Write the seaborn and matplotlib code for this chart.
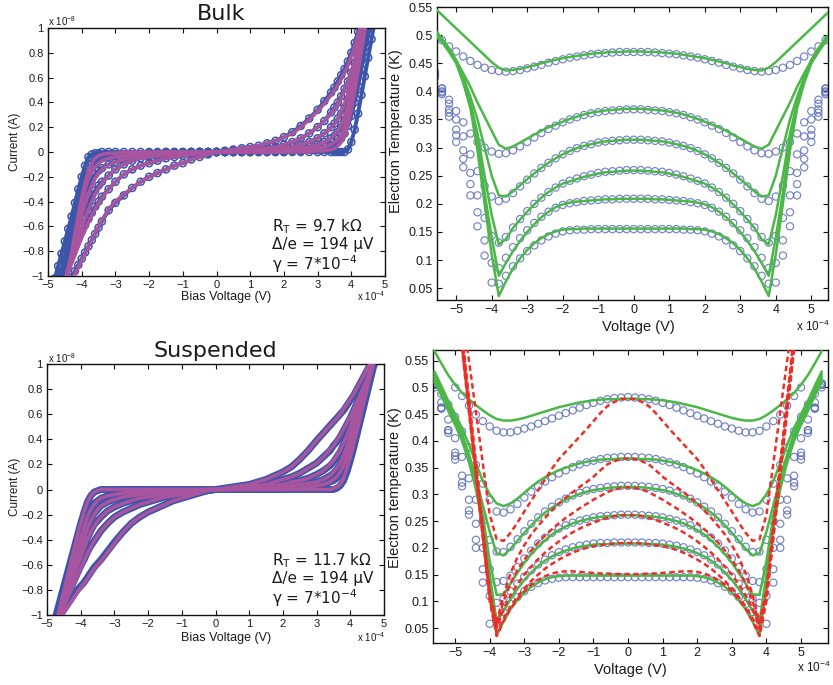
import numpy as np
import matplotlib
matplotlib.use("Agg")
import matplotlib.pyplot as plt
from matplotlib.ticker import FuncFormatter
import seaborn as sns

# ---------------------------------------------------------------------------
# Current-voltage sweeps.  Bias in units of 1e-4 V, current in units of 1e-10 A
# (i.e. 100 -> 1e-8 A).  Six bath temperatures, softest curve first.
# ---------------------------------------------------------------------------
bias_iv = [-4.8, -4.7, -4.6, -4.5, -4.4, -4.3, -4.2, -4.1, -4.0, -3.9, -3.8, -3.7,
           -3.6, -3.5, -3.4, -3.2, -3.0, -2.75, -2.5, -2.25, -2.0, -1.75, -1.5,
           -1.25, -1.0, -0.75, -0.5, -0.25, 0.0, 0.25, 0.5, 0.75, 1.0, 1.25, 1.5,
           1.75, 2.0, 2.25, 2.5, 2.75, 3.0, 3.2, 3.4, 3.5, 3.6, 3.7, 3.8, 3.9, 4.0,
           4.1, 4.2, 4.3, 4.4, 4.5, 4.6, 4.7, 4.8]

bulk_iv_fit = [
    [-131, -126, -120, -115, -109, -104, -98, -93, -87, -82, -76, -71, -66, -60, -55, -46, -40, -34, -29, -24, -20, -17, -14, -11, -9, -6, -4, -2,
     0, 1, 2, 3, 4, 5, 7, 9, 12, 15, 20, 26, 33, 39, 46, 50, 54, 59, 64, 70, 77, 85, 94, 103, 112, 121, 130, 139, 148],
    [-125, -118, -111, -104, -97, -90, -83, -76, -69, -63, -57, -51, -46, -41, -37, -30, -24, -18, -14, -11, -9, -7, -5, -4, -3, -2, -1, -1,
     0, 0, 1, 1, 2, 2, 3, 4, 6, 8, 11, 15, 20, 25, 31, 35, 39, 44, 50, 57, 65, 74, 84, 94, 104, 114, 124, 134, 144],
    [-133, -124, -115, -106, -97, -88, -79, -70, -62, -54, -47, -40, -34, -29, -25, -19, -14, -10, -7, -5, -4, -3, -2, -2, -1, -1, 0, 0,
     0, 0, 0, 1, 1, 1, 2, 2, 3, 4, 6, 8, 11, 15, 20, 23, 27, 32, 39, 47, 56, 66, 77, 89, 101, 113, 125, 137, 149],
    [-137, -126, -115, -104, -93, -82, -71, -61, -51, -42, -34, -27, -21, -17, -14, -10, -8, -6, -4, -3, -2, -2, -1, -1, -1, 0, 0, 0,
     0, 0, 0, 0, 0, 1, 1, 1, 1, 2, 3, 4, 6, 8, 11, 14, 17, 22, 28, 37, 47, 59, 72, 86, 100, 114, 128, 142, 156],
    [-152, -138, -124, -110, -96, -82, -68, -55, -42, -30, -21, -16, -12, -9, -7, -5, -4, -3, -2, -2, -1, -1, 0, 0, 0, 0, 0, 0,
     0, 0, 0, 0, 0, 0, 0, 0, 0, 1, 1, 2, 3, 4, 6, 8, 10, 14, 20, 29, 40, 53, 68, 83, 99, 115, 131, 147, 163],
    [-162, -146, -130, -114, -98, -82, -66, -51, -37, -25, -15, -9, -5, -3, -2, -1, -1, 0, 0, 0, 0, 0, 0, 0, 0, 0, 0, 0,
     0, 0, 0, 0, 0, 0, 0, 0, 0, 0, 0, 0, 1, 1, 2, 3, 5, 8, 13, 22, 34, 49, 65, 82, 99, 116, 133, 150, 167],
]

bulk_iv_meas = [
    [-128, -122, -117, -111, -106, -101, -96, -91, -86, -81, -76, -71, -66, -61, -56, -47, -41, -35, -29, -24, -20, -17, -14, -11, -9, -6, -4, -2,
     0, 1, 2, 3, 4, 5, 7, 9, 12, 16, 21, 27, 34, 41, 48, 52, 57, 62, 67, 73, 80, 88, 97, 106, 115, 124, 133, 142, 151],
    [-112, -106, -100, -94, -88, -82, -76, -70, -64, -59, -54, -49, -44, -40, -36, -30, -24, -18, -14, -11, -9, -7, -5, -4, -3, -2, -1, -1,
     0, 0, 1, 1, 2, 2, 3, 4, 6, 8, 11, 15, 20, 25, 32, 36, 40, 45, 51, 57, 64, 72, 81, 91, 101, 111, 121, 131, 141],
    [-115, -107, -99, -91, -83, -75, -67, -59, -52, -46, -40, -35, -31, -27, -24, -19, -14, -10, -7, -5, -4, -3, -2, -2, -1, -1, 0, 0,
     0, 0, 0, 1, 1, 1, 2, 2, 3, 4, 6, 8, 11, 15, 20, 23, 27, 31, 36, 42, 50, 59, 69, 80, 92, 104, 116, 128, 140],
    [-118, -108, -98, -88, -78, -68, -58, -49, -41, -33, -27, -22, -18, -15, -13, -10, -8, -6, -4, -3, -2, -2, -1, -1, -1, 0, 0, 0,
     0, 0, 0, 0, 0, 1, 1, 1, 1, 2, 3, 4, 6, 8, 11, 13, 16, 20, 25, 31, 39, 49, 61, 74, 88, 102, 116, 130, 144],
    [-120, -108, -96, -84, -72, -60, -49, -38, -28, -20, -14, -10, -8, -6, -5, -4, -3, -3, -2, -2, -1, -1, 0, 0, 0, 0, 0, 0,
     0, 0, 0, 0, 0, 0, 0, 0, 0, 1, 1, 2, 3, 4, 5, 6, 8, 11, 15, 21, 29, 40, 53, 67, 81, 95, 109, 123, 137],
    [-102, -92, -82, -72, -62, -52, -41, -30, -20, -11, -4, -2, -1, -1, 0, 0, 0, 0, 0, 0, 0, 0, 0, 0, 0, 0, 0, 0,
     0, 0, 0, 0, 0, 0, 0, 0, 0, 0, 0, 0, 0, 0, 0, 0, 0, 0, 0, 2, 8, 18, 31, 46, 61, 76, 91, 106, 121],
]

susp_iv_fit = [
    [-110, -106, -102, -98, -94, -90, -86, -82, -78, -75, -71, -67, -63, -60, -57, -50, -43, -34, -27, -22, -18, -15, -12, -9, -7, -5, -3, -1,
     0, 1, 2, 3, 4, 6, 8, 11, 14, 18, 24, 31, 39, 45, 51, 54, 57, 60, 64, 68, 72, 76, 81, 86, 91, 96, 101, 106, 111],
    [-111, -105, -99, -93, -87, -81, -75, -69, -63, -57, -51, -46, -41, -37, -33, -27, -22, -18, -15, -12, -10, -8, -6, -5, -4, -3, -2, -1,
     0, 0, 1, 2, 3, 3, 4, 6, 8, 10, 13, 17, 21, 26, 32, 35, 39, 43, 48, 53, 58, 64, 70, 76, 82, 88, 94, 100, 106],
    [-115, -107, -99, -91, -83, -75, -68, -61, -54, -47, -40, -34, -29, -25, -22, -17, -14, -11, -9, -7, -6, -5, -4, -3, -2, -2, -1, 0,
     0, 0, 1, 1, 2, 2, 3, 3, 4, 6, 7, 9, 12, 15, 20, 23, 27, 31, 37, 43, 50, 57, 64, 71, 79, 87, 95, 103, 111],
    [-119, -110, -101, -92, -83, -74, -65, -56, -47, -39, -31, -25, -20, -16, -13, -10, -8, -6, -5, -4, -3, -3, -2, -2, -1, -1, -1, 0,
     0, 0, 0, 1, 1, 1, 1, 1, 2, 3, 4, 5, 6, 8, 11, 14, 17, 21, 27, 34, 42, 51, 60, 69, 78, 87, 96, 105, 114],
    [-119, -109, -99, -89, -79, -69, -59, -49, -39, -30, -22, -16, -12, -9, -7, -5, -4, -3, -2, -2, -1, -1, 0, 0, 0, 0, 0, 0,
     0, 0, 0, 0, 0, 0, 0, 0, 0, 1, 1, 2, 3, 4, 6, 8, 10, 14, 19, 26, 35, 45, 55, 65, 75, 85, 95, 105, 115],
    [-114, -103, -92, -81, -70, -59, -48, -37, -27, -18, -10, -5, -2, -1, 0, 0, 0, 0, 0, 0, 0, 0, 0, 0, 0, 0, 0, 0,
     0, 0, 0, 0, 0, 0, 0, 0, 0, 0, 0, 0, 0, 0, 0, 1, 2, 4, 9, 17, 26, 36, 47, 58, 69, 80, 91, 102, 113],
]

susp_iv_meas = [
    [-108, -104, -100, -96, -92, -88, -84, -80, -77, -74, -70, -66, -62, -59, -56, -49, -42, -34, -27, -22, -18, -15, -12, -9, -7, -5, -3, -1,
     0, 1, 2, 3, 4, 6, 8, 11, 14, 18, 24, 31, 39, 45, 51, 54, 57, 60, 63, 67, 71, 75, 80, 85, 90, 95, 100, 105, 110],
    [-109, -103, -97, -91, -85, -79, -73, -67, -61, -56, -50, -45, -41, -37, -33, -27, -22, -18, -15, -12, -10, -8, -6, -5, -4, -3, -2, -1,
     0, 0, 1, 2, 3, 3, 4, 6, 8, 10, 13, 17, 21, 26, 31, 35, 38, 42, 47, 52, 57, 63, 69, 75, 81, 87, 93, 99, 105],
    [-112, -104, -96, -88, -80, -73, -66, -59, -52, -45, -39, -33, -28, -25, -22, -17, -14, -11, -9, -7, -6, -5, -4, -3, -2, -2, -1, 0,
     0, 0, 1, 1, 2, 2, 3, 3, 4, 6, 7, 9, 12, 15, 19, 22, 26, 30, 36, 42, 49, 56, 63, 70, 78, 86, 94, 102, 110],
    [-116, -107, -98, -89, -80, -71, -62, -53, -45, -37, -30, -24, -19, -16, -13, -10, -8, -6, -5, -4, -3, -3, -2, -2, -1, -1, -1, 0,
     0, 0, 0, 1, 1, 1, 1, 1, 2, 3, 4, 5, 6, 8, 11, 13, 16, 20, 26, 33, 41, 50, 59, 68, 77, 86, 95, 104, 113],
    [-116, -106, -96, -86, -76, -66, -56, -46, -37, -28, -21, -15, -11, -9, -7, -5, -4, -3, -2, -2, -1, -1, 0, 0, 0, 0, 0, 0,
     0, 0, 0, 0, 0, 0, 0, 0, 0, 1, 1, 2, 3, 4, 6, 7, 9, 13, 18, 25, 34, 44, 54, 64, 74, 84, 94, 104, 114],
    [-107, -97, -87, -77, -67, -57, -47, -37, -27, -18, -10, -5, -2, -1, 0, 0, 0, 0, 0, 0, 0, 0, 0, 0, 0, 0, 0, 0,
     0, 0, 0, 0, 0, 0, 0, 0, 0, 0, 0, 0, 0, 0, 0, 0, 1, 3, 7, 14, 23, 33, 44, 55, 66, 77, 88, 99, 110],
]

# ---------------------------------------------------------------------------
# Electron temperature versus bias.  Bias in units of 1e-4 V, temperature in mK.
# ---------------------------------------------------------------------------
bias_te = [-5.6, -5.4, -5.2, -5.0, -4.8, -4.6, -4.4, -4.2, -4.0, -3.8, -3.6, -3.4,
           -3.2, -3.0, -2.8, -2.6, -2.4, -2.2, -2.0, -1.8, -1.6, -1.4, -1.2, -1.0,
           -0.8, -0.6, -0.4, -0.2, 0.0, 0.2, 0.4, 0.6, 0.8, 1.0, 1.2, 1.4, 1.6, 1.8,
           2.0, 2.2, 2.4, 2.6, 2.8, 3.0, 3.2, 3.4, 3.6, 3.8, 4.0, 4.2, 4.4, 4.6, 4.8,
           5.0, 5.2, 5.4, 5.6]

bulk_te_fit = [
    [548, 536, 524, 512, 500, 488, 476, 464, 452, 442, 437, 438, 440, 443, 446, 450, 453, 456, 459, 461, 463, 465, 467, 468, 469, 470, 470, 471,
     471, 471, 470, 470, 469, 468, 467, 465, 463, 461, 459, 456, 453, 450, 446, 443, 440, 438, 437, 442, 452, 464, 476, 488, 500, 512, 524, 536, 548],
    [510, 493, 475, 455, 432, 408, 380, 355, 330, 305, 298, 302, 309, 316, 323, 330, 336, 341, 346, 351, 355, 359, 362, 364, 366, 367, 368, 369,
     369, 369, 368, 367, 366, 364, 362, 359, 355, 351, 346, 341, 336, 330, 323, 316, 309, 302, 298, 305, 330, 355, 380, 408, 432, 455, 475, 493, 510],
    [508, 494, 476, 455, 425, 390, 350, 300, 250, 215, 213, 222, 233, 244, 254, 264, 273, 281, 288, 294, 299, 303, 306, 309, 311, 312, 313, 314,
     314, 314, 313, 312, 311, 309, 306, 303, 299, 294, 288, 281, 273, 264, 254, 244, 233, 222, 213, 215, 250, 300, 350, 390, 425, 455, 476, 494, 508],
    [505, 492, 476, 455, 423, 380, 325, 250, 180, 128, 137, 157, 172, 186, 199, 211, 221, 229, 236, 240, 244, 248, 251, 254, 256, 257, 258, 259,
     259, 259, 258, 257, 256, 254, 251, 248, 244, 240, 236, 229, 221, 211, 199, 186, 172, 157, 137, 128, 180, 250, 325, 380, 423, 455, 476, 492, 505],
    [502, 490, 472, 452, 420, 375, 310, 220, 140, 72, 95, 116, 134, 150, 164, 176, 186, 194, 199, 202, 204, 205, 206, 207, 208, 208, 209, 209,
     209, 209, 209, 208, 208, 207, 206, 205, 204, 202, 199, 194, 186, 176, 164, 150, 134, 116, 95, 72, 140, 220, 310, 375, 420, 452, 472, 490, 502],
    [500, 488, 470, 450, 415, 370, 295, 200, 110, 36, 62, 85, 103, 118, 130, 139, 146, 151, 154, 155, 155, 156, 156, 156, 156, 156, 156, 156,
     156, 156, 156, 156, 156, 156, 156, 156, 155, 155, 154, 151, 146, 139, 130, 118, 103, 85, 62, 36, 110, 200, 295, 370, 415, 450, 470, 488, 500],
]

bulk_te_meas = [
    [502, 491, 480, 471, 462, 454, 447, 442, 438, 436, 435, 436, 438, 441, 444, 447, 451, 454, 457, 460, 462, 464, 466, 467, 468, 469, 470, 470,
     470, 470, 470, 469, 468, 467, 466, 464, 462, 460, 457, 454, 451, 447, 444, 441, 438, 436, 435, 436, 438, 442, 447, 454, 462, 471, 480, 491, 502],
    [425, 405, 385, 365, 345, 325, 310, 300, 293, 289, 290, 295, 302, 310, 318, 326, 333, 339, 345, 350, 354, 358, 361, 363, 365, 366, 367, 368,
     368, 368, 367, 366, 365, 363, 361, 358, 354, 350, 345, 339, 333, 326, 318, 310, 302, 295, 290, 289, 293, 300, 310, 325, 345, 365, 385, 405, 425],
    [430, 405, 378, 350, 320, 288, 258, 232, 213, 205, 209, 219, 231, 243, 254, 264, 273, 281, 288, 294, 299, 303, 306, 309, 311, 312, 313, 314,
     314, 314, 313, 312, 311, 309, 306, 303, 299, 294, 288, 281, 273, 264, 254, 243, 231, 219, 209, 205, 213, 232, 258, 288, 320, 350, 378, 405, 430],
    [430, 400, 368, 332, 295, 255, 215, 175, 143, 131, 141, 158, 173, 187, 200, 211, 221, 229, 236, 241, 245, 249, 252, 255, 257, 258, 259, 260,
     260, 260, 259, 258, 257, 255, 252, 249, 245, 241, 236, 229, 221, 211, 200, 187, 173, 158, 141, 131, 143, 175, 215, 255, 295, 332, 368, 400, 430],
    [432, 398, 362, 322, 280, 235, 185, 135, 95, 86, 104, 123, 139, 153, 166, 177, 186, 193, 198, 201, 203, 205, 206, 207, 208, 208, 209, 209,
     209, 209, 209, 208, 208, 207, 206, 205, 203, 201, 198, 193, 186, 177, 166, 153, 139, 123, 104, 86, 95, 135, 185, 235, 280, 322, 362, 398, 432],
    [435, 395, 355, 310, 265, 215, 160, 108, 60, 58, 72, 89, 103, 116, 126, 135, 142, 147, 151, 153, 154, 154, 155, 155, 155, 155, 155, 155,
     155, 155, 155, 155, 155, 155, 155, 154, 154, 153, 151, 147, 142, 135, 126, 116, 103, 89, 72, 58, 60, 108, 160, 215, 265, 310, 355, 395, 435],
]

susp_te_fit = [
    [568, 545, 523, 505, 490, 478, 467, 457, 448, 441, 438, 438, 440, 443, 447, 451, 455, 459, 463, 466, 469, 472, 474, 476, 477, 478, 478, 479,
     479, 479, 478, 478, 477, 476, 474, 472, 469, 466, 463, 459, 455, 451, 447, 443, 440, 438, 438, 441, 448, 457, 467, 478, 490, 505, 523, 545, 568],
    [530, 503, 475, 450, 424, 393, 358, 325, 300, 283, 278, 283, 292, 303, 314, 324, 332, 339, 345, 350, 354, 358, 361, 363, 365, 366, 366, 367,
     367, 367, 366, 366, 365, 363, 361, 358, 354, 350, 345, 339, 332, 324, 314, 303, 292, 283, 278, 283, 300, 325, 358, 393, 424, 450, 475, 503, 530],
    [525, 498, 470, 444, 413, 375, 330, 280, 230, 190, 186, 198, 213, 228, 242, 255, 266, 275, 283, 290, 296, 301, 305, 308, 310, 312, 313, 314,
     314, 314, 313, 312, 310, 308, 305, 301, 296, 290, 283, 275, 266, 255, 242, 228, 213, 198, 186, 190, 230, 280, 330, 375, 413, 444, 470, 498, 525],
    [520, 494, 466, 440, 410, 370, 320, 260, 175, 112, 113, 133, 153, 172, 188, 202, 214, 225, 233, 240, 246, 250, 253, 256, 258, 259, 260, 261,
     261, 261, 260, 259, 258, 256, 253, 250, 246, 240, 233, 225, 214, 202, 188, 172, 153, 133, 113, 112, 175, 260, 320, 370, 410, 440, 466, 494, 520],
    [515, 490, 462, 436, 405, 365, 315, 250, 150, 62, 82, 104, 123, 140, 154, 166, 176, 184, 190, 195, 199, 202, 204, 206, 207, 207, 208, 208,
     208, 208, 208, 207, 207, 206, 204, 202, 199, 195, 190, 184, 176, 166, 154, 140, 123, 104, 82, 62, 150, 250, 315, 365, 405, 436, 462, 490, 515],
    [510, 485, 456, 430, 400, 360, 310, 240, 130, 36, 62, 85, 102, 116, 127, 135, 141, 145, 147, 148, 148, 148, 148, 148, 148, 148, 148, 148,
     148, 148, 148, 148, 148, 148, 148, 148, 148, 148, 147, 145, 141, 135, 127, 116, 102, 85, 62, 36, 130, 240, 310, 360, 400, 430, 456, 485, 510],
]

susp_te_model = [
    [1025, 930, 835, 740, 645, 550, 455, 358, 262, 216, 213, 228, 247, 268, 288, 308, 328, 348, 366, 380, 394, 408, 422, 437, 452, 465, 473, 478,
     479, 478, 473, 465, 452, 437, 422, 408, 394, 380, 366, 348, 328, 308, 288, 268, 247, 228, 213, 216, 262, 358, 455, 550, 645, 740, 835, 930, 1025],
    [1080, 960, 840, 720, 600, 480, 360, 240, 120, 60, 112, 152, 182, 205, 225, 241, 256, 270, 283, 294, 304, 314, 323, 333, 345, 356, 362, 366,
     367, 366, 362, 356, 345, 333, 323, 314, 304, 294, 283, 270, 256, 241, 225, 205, 182, 152, 112, 60, 120, 240, 360, 480, 600, 720, 840, 960, 1080],
    [1075, 955, 835, 715, 595, 475, 355, 235, 115, 55, 100, 133, 158, 178, 195, 210, 223, 235, 246, 256, 265, 274, 282, 290, 297, 304, 309, 312,
     313, 312, 309, 304, 297, 290, 282, 274, 265, 256, 246, 235, 223, 210, 195, 178, 158, 133, 100, 55, 115, 235, 355, 475, 595, 715, 835, 955, 1075],
    [1060, 940, 820, 700, 582, 464, 346, 228, 110, 50, 86, 111, 132, 150, 165, 179, 191, 202, 212, 221, 229, 236, 242, 247, 252, 256, 259, 261,
     261, 261, 259, 256, 252, 247, 242, 236, 229, 221, 212, 202, 191, 179, 165, 150, 132, 111, 86, 50, 110, 228, 346, 464, 582, 700, 820, 940, 1060],
    [1050, 930, 812, 694, 576, 458, 340, 222, 105, 42, 68, 90, 108, 124, 138, 150, 161, 170, 178, 185, 191, 196, 200, 203, 205, 207, 208, 209,
     209, 209, 208, 207, 205, 203, 200, 196, 191, 185, 178, 170, 161, 150, 138, 124, 108, 90, 68, 42, 105, 222, 340, 458, 576, 694, 812, 930, 1050],
    [1044, 926, 808, 690, 572, 454, 336, 218, 100, 35, 63, 86, 104, 119, 131, 140, 147, 152, 155, 156, 156, 155, 154, 153, 152, 152, 151, 151,
     151, 151, 151, 152, 152, 153, 154, 155, 156, 156, 155, 152, 147, 140, 131, 119, 104, 86, 63, 35, 100, 218, 336, 454, 572, 690, 808, 926, 1044],
]

susp_te_meas = [
    [None, None, None, 500, 484, 466, 449, 437, 427, 419, 416, 416, 419, 423, 427, 432, 437, 442, 447, 452, 457, 462, 467, 471, 475, 478, 480, 481,
     482, 481, 480, 478, 475, 471, 467, 462, 457, 452, 447, 442, 437, 432, 427, 423, 419, 416, 416, 419, 427, 437, 449, 466, 484, 500, None, None, None],
    [505, 488, 468, 445, 418, 388, 355, 320, 290, 268, 266, 272, 282, 294, 305, 315, 324, 332, 339, 345, 351, 356, 360, 363, 366, 368, 369, 370,
     370, 370, 369, 368, 366, 363, 360, 356, 351, 345, 339, 332, 324, 315, 305, 294, 282, 272, 266, 268, 290, 320, 355, 388, 418, 445, 468, 488, 505],
    [505, 472, 440, 405, 370, 330, 290, 250, 215, 193, 192, 202, 216, 231, 245, 257, 268, 277, 285, 292, 298, 303, 307, 310, 312, 314, 315, 316,
     316, 316, 315, 314, 312, 310, 307, 303, 298, 292, 285, 277, 268, 257, 245, 231, 216, 202, 192, 193, 215, 250, 290, 330, 370, 405, 440, 472, 505],
    [500, 460, 420, 378, 335, 290, 245, 200, 160, 136, 138, 148, 164, 180, 195, 208, 219, 228, 236, 242, 247, 251, 254, 257, 259, 260, 261, 262,
     262, 262, 261, 260, 259, 257, 254, 251, 247, 242, 236, 228, 219, 208, 195, 180, 164, 148, 138, 136, 160, 200, 245, 290, 335, 378, 420, 460, 500],
    [505, 462, 420, 372, 322, 270, 215, 160, 110, 97, 105, 119, 133, 146, 158, 169, 178, 186, 192, 197, 201, 204, 206, 208, 209, 209, 210, 210,
     210, 210, 210, 209, 209, 208, 206, 204, 201, 197, 192, 186, 178, 169, 158, 146, 133, 119, 105, 97, 110, 160, 215, 270, 322, 372, 420, 462, 505],
    [508, 462, 415, 365, 315, 262, 200, 135, 58, 64, 80, 95, 108, 119, 127, 134, 139, 142, 144, 145, 145, 145, 145, 145, 145, 145, 145, 145,
     145, 145, 145, 145, 145, 145, 145, 145, 145, 145, 144, 142, 139, 134, 127, 119, 108, 95, 80, 64, 58, 135, 200, 262, 315, 365, 415, 462, 508],
]

for group in (bulk_iv_fit, bulk_iv_meas, susp_iv_fit, susp_iv_meas):
    for row in group:
        assert len(row) == len(bias_iv), len(row)
for group in (bulk_te_fit, bulk_te_meas, susp_te_fit, susp_te_model, susp_te_meas):
    for row in group:
        assert len(row) == len(bias_te), len(row)

# ---------------------------------------------------------------------------
sns.set_theme(style="ticks")
plt.rcParams["font.family"] = ["Liberation Sans", "DejaVu Sans"]
plt.rcParams["axes.unicode_minus"] = True

BLUE_IV = "#3b55a9"
MAGENTA = "#a8549f"
CIRCLE = "#5a6dbb"
GREEN = "#4cb748"
RED = "#ec2f26"
TEXT = "#1a1a1a"

W, H = 833, 685
fig = plt.figure(figsize=(W / 100, H / 100), dpi=100)


def px_axes(x0, y0, x1, y1):
    return fig.add_axes([x0 / W, 1 - y1 / H, (x1 - x0) / W, (y1 - y0) / H])


def ftext(x, y, s, **kw):
    kw.setdefault("color", TEXT)
    return fig.text(x / W, 1 - y / H, s, **kw)


fmt = FuncFormatter(lambda v, p: ("%g" % round(v, 3)).replace("-", "\u2212"))


def style_axes(ax, size):
    for sp in ax.spines.values():
        sp.set_visible(True)
        sp.set_color("#111111")
        sp.set_linewidth(1.0)
    ax.tick_params(which="both", direction="in", length=3.5, width=0.8,
                   top=True, right=True, labelsize=size, pad=3,
                   labelcolor=TEXT, color="#111111")
    ax.xaxis.set_major_formatter(fmt)
    ax.yaxis.set_major_formatter(fmt)
    ax.set_xlabel("")
    ax.set_ylabel("")


ax_biv = px_axes(48, 28, 385, 276)
ax_bte = px_axes(437, 7, 828, 300)
ax_siv = px_axes(47, 364, 384, 615)
ax_ste = px_axes(433, 350, 828, 643)

v_iv = np.array(bias_iv, dtype=float)
v_te = np.array(bias_te, dtype=float)


def draw_iv(ax, fits, meas, band_lw, with_circles):
    for row in meas:
        y = np.array(row, dtype=float) / 100.0
        sns.lineplot(x=v_iv, y=y, ax=ax, color=BLUE_IV, lw=band_lw,
                     zorder=2, legend=False, sort=False)
        if with_circles:
            sns.scatterplot(x=v_iv, y=y, ax=ax, marker="o", s=26,
                            color=BLUE_IV, facecolor="none",
                            edgecolor=BLUE_IV, linewidth=1.1, zorder=2.2,
                            legend=False)
    for row in fits:
        y = np.array(row, dtype=float) / 100.0
        sns.lineplot(x=v_iv, y=y, ax=ax, color=MAGENTA, lw=2.6,
                     zorder=3, legend=False, sort=False)
    ax.set_xlim(-5, 5)
    ax.set_ylim(-1, 1)
    ax.set_xticks(np.arange(-5, 6, 1))
    ax.set_yticks([-1, -0.8, -0.6, -0.4, -0.2, 0, 0.2, 0.4, 0.6, 0.8, 1])
    style_axes(ax, 8)


draw_iv(ax_biv, bulk_iv_fit, bulk_iv_meas, 2.8, True)
draw_iv(ax_siv, susp_iv_fit, susp_iv_meas, 5.0, False)


def draw_te(ax, fits, meas, model=None):
    for row in meas:
        y = np.array(row, dtype=float) / 1000.0
        sns.scatterplot(x=v_te, y=y, ax=ax, marker="o", s=27,
                        color=CIRCLE, facecolor="none", edgecolor=CIRCLE,
                        linewidth=0.85, alpha=0.85, zorder=2, legend=False)
    for row in fits:
        y = np.array(row, dtype=float) / 1000.0
        sns.lineplot(x=v_te, y=y, ax=ax, color=GREEN, lw=1.8, zorder=3,
                     legend=False, sort=False)
    if model is not None:
        for row in model:
            y = np.array(row, dtype=float) / 1000.0
            sns.lineplot(x=v_te, y=y, ax=ax, color=RED, lw=1.8, zorder=4,
                         legend=False, sort=False,
                         linestyle=(0, (2.2, 1.4)))
    ax.set_xticks(np.arange(-5, 6, 1))
    ax.set_yticks([0.05, 0.1, 0.15, 0.2, 0.25, 0.3, 0.35, 0.4, 0.45, 0.5, 0.55])
    style_axes(ax, 9)


draw_te(ax_bte, bulk_te_fit, bulk_te_meas)
ax_bte.set_xlim(-5.54, 5.47)
ax_bte.set_ylim(0.029, 0.55)

draw_te(ax_ste, susp_te_fit, susp_te_meas, susp_te_model)
ax_ste.set_xlim(-5.64, 5.78)
ax_ste.set_ylim(0.022, 0.570)

# ---------------------------------------------------------------------------
# Labels, exponents, titles and fit parameters
# ---------------------------------------------------------------------------
lab = dict(ha="center", va="center")
ftext(15, 142, "Current (A)", rotation=90, fontsize=8.5, **lab)
ftext(226, 297, "Bias Voltage (V)", fontsize=9, **lab)
ftext(15, 487, "Current (A)", rotation=90, fontsize=8.5, **lab)
ftext(226, 638, "Bias Voltage (V)", fontsize=9, **lab)
ftext(396, 131, "Electron Temperature (K)", rotation=90, fontsize=10.5, **lab)
ftext(638, 327, "Voltage (V)", fontsize=10.5, **lab)
ftext(395, 488, "Electron temperature (K)", rotation=90, fontsize=10.5, **lab)
ftext(630, 670, "Voltage (V)", fontsize=10.5, **lab)

exp_kw = dict(fontsize=7, va="center", ha="left")
ftext(48, 21, r"x 10$^{\mathregular{-8}}$", **exp_kw)
ftext(48, 358, r"x 10$^{\mathregular{-8}}$", **exp_kw)
ftext(357, 296, r"x 10$^{\mathregular{-4}}$", **exp_kw)
ftext(357, 637, r"x 10$^{\mathregular{-4}}$", **exp_kw)
ftext(796, 326, r"x 10$^{\mathregular{-4}}$", fontsize=8.5, va="center", ha="left")
ftext(797, 667, r"x 10$^{\mathregular{-4}}$", fontsize=8.5, va="center", ha="left")

title_kw = dict(fontsize=16, ha="center", va="center", family="DejaVu Sans")
ftext(221, 14, "Bulk", **title_kw)
ftext(215, 351, "Suspended", **title_kw)

ann_kw = dict(fontsize=11, ha="left", va="center", family="DejaVu Sans")
for (y0, rt) in ((227, "9.7"), (561, "11.7")):
    ftext(272, y0, r"R$_{\mathregular{T}}$ = " + rt + " k\u03a9", **ann_kw)
    ftext(272, y0 + 18, "\u0394/e = 194 \u03bcV", **ann_kw)
    ftext(272, y0 + 37, "\u03b3 = 7*10" + r"$^{\mathregular{-4}}$", **ann_kw)

fig.savefig("out.png", dpi=100)
